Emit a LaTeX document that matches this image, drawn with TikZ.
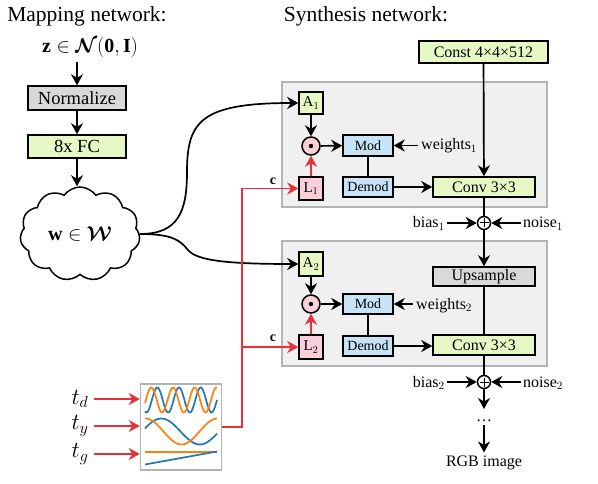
\RequirePackage{fix-cm}
\documentclass[tikz,border=0pt]{standalone}
\usepackage{amsmath}
\usepackage{fontspec}
\setmainfont{Liberation Serif}
\usetikzlibrary{arrows.meta,shapes.symbols}
\definecolor{fcgreen}{HTML}{E6F8C3}
\definecolor{modblue}{HTML}{C6E3F8}
\definecolor{lpink}{HTML}{F9D0DA}
\definecolor{normgray}{HTML}{D9D9D9}
\definecolor{blockbg}{HTML}{F0F0F0}
\definecolor{blockline}{HTML}{B3B3B3}
\definecolor{cred}{HTML}{E8303A}
\definecolor{mplblue}{HTML}{1F77B4}
\definecolor{mplorange}{HTML}{FF7F0E}
\newcommand{\fsz}[1]{\fontsize{#1}{#1}\selectfont}
\begin{document}
\begin{tikzpicture}[x=1pt,y=-1pt,
  box/.style={draw, line width=1.5pt, inner sep=0pt, align=center},
  blockbox/.style={draw=blockline, fill=blockbg, line width=1.5pt, inner sep=0pt, minimum width=265pt, minimum height=125pt},
  opcirc/.style={circle, draw, line width=1.5pt, inner sep=0pt},
  arr/.style={line width=1.7pt, -{Stealth[length=11pt,width=12pt,inset=3.5pt]}},
  ln/.style={line width=1.7pt},
  lbl/.style={font={\fsz{16}}, inner sep=0pt}
]
\useasboundingbox (0,0) rectangle (598,484);

% titles
\node[font={\fsz{21.5}}] (tmap) at (87,16) {Mapping network:};
\node[font={\fsz{21.5}}] (tsyn) at (366,16) {Synthesis network:};

% mapping network
\node[font={\fsz{20}}] (z) at (90,48) {$\mathbf{z}\in\boldsymbol{\mathcal{N}}(\mathbf{0},\mathbf{I})$};
\node[box, fill=normgray, minimum width=98pt, minimum height=24pt, font={\fsz{18.5}}] (norm) at (77,98) {Normalize};
\node[box, fill=fcgreen, minimum width=98pt, minimum height=23pt, font={\fsz{18.5}}] (fc) at (77,146.5) {8x FC};
\node[cloud, draw, line width=1.5pt, cloud puffs=11, cloud puff arc=110, aspect=1.3, minimum width=120pt, minimum height=94pt, inner sep=0pt, font={\fsz{20}}] (cl) at (80,234) {$\mathbf{w}\in\boldsymbol{\mathcal{W}}$};

\draw[arr] (z.south -| norm.north) -- (norm.north);
\draw[arr] (norm) -- (fc);
\draw[arr] (fc.south) -- (fc.south |- cl.north);

% blocks
\node[blockbox] (blk1) at (414.5,144.5) {};
\node[blockbox] (blk2) at (414.5,303.5) {};

% block 1
\node[box, fill=fcgreen, minimum width=129pt, minimum height=22pt, font={\fsz{16}}] (const) at (483.5,52) {Const 4×4×512};
\node[box, fill=fcgreen, minimum width=24pt, minimum height=22pt, font={\fsz{15}}] (a1) at (311,103) {A$_1$};
\node[opcirc, fill=lpink, minimum size=18pt] (o1) at (311,146) {};
\node[box, fill=modblue, minimum width=50pt, minimum height=21pt, font={\fsz{14}}] (mod1) at (368,145.5) {Mod};
\node[lbl, anchor=base west] (w1) at (421,150) {weights$_1$};
\node[box, fill=lpink, minimum width=24pt, minimum height=23pt, font={\fsz{15}}] (l1) at (311,188.5) {L$_1$};
\node[box, fill=modblue, minimum width=50pt, minimum height=20pt, font={\fsz{14}}] (dm1) at (368,187) {Demod};
\node[box, fill=fcgreen, minimum width=102pt, minimum height=20pt, font={\fsz{16}}] (cv1) at (484,187) {Conv 3×3};
\node[opcirc, fill=white, minimum size=13pt] (p1) at (484,223) {};
\node[lbl, anchor=base east] (b1) at (445,228) {bias$_1$};
\node[lbl, anchor=base west] (n1) at (523,228) {noise$_1$};

% block 2
\node[box, fill=fcgreen, minimum width=24pt, minimum height=24pt, font={\fsz{15}}] (a2) at (311,264) {A$_2$};
\node[opcirc, fill=lpink, minimum size=18pt] (o2) at (311,304) {};
\node[box, fill=modblue, minimum width=50pt, minimum height=20pt, font={\fsz{14}}] (mod2) at (368,304) {Mod};
\node[lbl, anchor=base west] (w2) at (416,309) {weights$_2$};
\node[box, fill=lpink, minimum width=24pt, minimum height=24pt, font={\fsz{15}}] (l2) at (311,347) {L$_2$};
\node[box, fill=modblue, minimum width=50pt, minimum height=20pt, font={\fsz{14}}] (dm2) at (368,346) {Demod};
\node[box, fill=normgray, minimum width=102pt, minimum height=19pt, font={\fsz{16}}] (up) at (484,276.5) {Upsample};
\node[box, fill=fcgreen, minimum width=102pt, minimum height=20pt, font={\fsz{16}}] (cv2) at (484,345) {Conv 3×3};
\node[opcirc, fill=white, minimum size=13pt] (p2) at (484,382) {};
\node[lbl, anchor=base east] (b2) at (445,387) {bias$_2$};
\node[lbl, anchor=base west] (n2) at (523,387) {noise$_2$};

\node[lbl, anchor=base] (dots) at (484,421) {…};
\coordinate (dt1) at (484,409);
\coordinate (dt2) at (484,425);
\node[font={\fsz{16}}] (rgb) at (484,463) {RGB image};

% symbols inside circles
\fill (o1) circle (2.2pt);
\fill (o2) circle (2.2pt);
\draw[line width=1pt] ([yshift=4.5pt]p1.center) -- ([yshift=-4.5pt]p1.center) ([xshift=-4.5pt]p1.center) -- ([xshift=4.5pt]p1.center);
\draw[line width=1pt] ([yshift=4.5pt]p2.center) -- ([yshift=-4.5pt]p2.center) ([xshift=-4.5pt]p2.center) -- ([xshift=4.5pt]p2.center);

% connectors block 1
\draw[arr] (const) -- (cv1);
\draw[arr] (a1) -- (o1);
\draw[arr, cred] (l1) -- (o1);
\draw[arr] (o1) -- (mod1);
\draw[arr, shorten <=3pt] (w1.west |- mod1) -- (mod1);
\draw[ln] (mod1) -- (dm1);
\draw[arr] (dm1) -- (cv1);
\draw[ln] (cv1) -- (p1);
\draw[arr, shorten <=2pt] (b1.east |- p1) -- (p1);
\draw[arr, shorten <=2pt] (n1.west |- p1) -- (p1);
\draw[arr] (p1) -- (up);

% connectors block 2
\draw[arr] (a2) -- (o2);
\draw[arr, cred] (l2) -- (o2);
\draw[arr] (o2) -- (mod2);
\draw[arr, shorten <=3pt] (w2.west |- mod2) -- (mod2);
\draw[ln] (mod2) -- (dm2);
\draw[arr] (dm2.east) -- (dm2.east -| cv2.west);
\draw[ln] (up) -- (cv2);
\draw[ln] (cv2) -- (p2);
\draw[arr, shorten <=2pt] (b2.east |- p2) -- (p2);
\draw[arr, shorten <=2pt] (n2.west |- p2) -- (p2);
\draw[arr] (p2) -- (dt1);
\draw[arr] (dt2) -- (rgb.north);

% style vectors from cloud
\draw[arr] (cl.east) .. controls (178,234) and (187,212) .. (187,172) .. controls (187,122) and (200,103) .. (a1.west);
\draw[arr] (cl.east) .. controls (172,234) and (180,240) .. (188,250) .. controls (197,261) and (230,264) .. (a2.west);

% time plot
\node[draw=blockline, fill=white, line width=1.5pt, minimum width=81pt, minimum height=86pt, inner sep=0pt] (pl) at (181,427) {};
\begin{scope}[line width=1.7pt]
\draw[mplblue] plot[domain=145:217, samples=120, smooth] (\x, {400-12.5*cos(16.59*(\x-157.3))});
\draw[mplorange] plot[domain=145:217, samples=120, smooth] (\x, {400-12.5*cos(16.59*(\x-151.3))});
\draw[mplblue] plot[domain=145:217, samples=60, smooth] (\x, {431.5-13*cos(4.675*(\x-161.3))});
\draw[mplorange] plot[domain=145:217, samples=60, smooth] (\x, {431.5-13*cos(5.0*(\x-145.5))});
\draw[mplorange, line width=2pt] (145,451.5) -- (217,451.5);
\draw[mplblue] (145,464.5) -- (217,451.5);
\end{scope}

% conditioning labels
\node[font={\fsz{23}}] (td) at (80,399) {$t_d$};
\node[font={\fsz{23}}] (ty) at (80,426) {$t_y$};
\node[font={\fsz{23}}] (tg) at (80,454) {$t_g$};
\draw[arr, cred, shorten <=2pt] (td.east) -- (td.east -| pl.west);
\draw[arr, cred, shorten <=2pt] (ty.east) -- (ty.east -| pl.west);
\draw[arr, cred, shorten <=2pt] (tg.east) -- (tg.east -| pl.west);

% red conditioning bus
\coordinate (bus) at (242,300);
\draw[arr, cred] (pl.east) -- (pl.east -| bus) |- (l1);
\draw[arr, cred] (bus |- l2) -- (l2);
\node[font={\bfseries\fsz{14}}] (c1) at (273,181) {c};
\node[font={\bfseries\fsz{14}}] (c2) at (273,338) {c};
\end{tikzpicture}
\end{document}
